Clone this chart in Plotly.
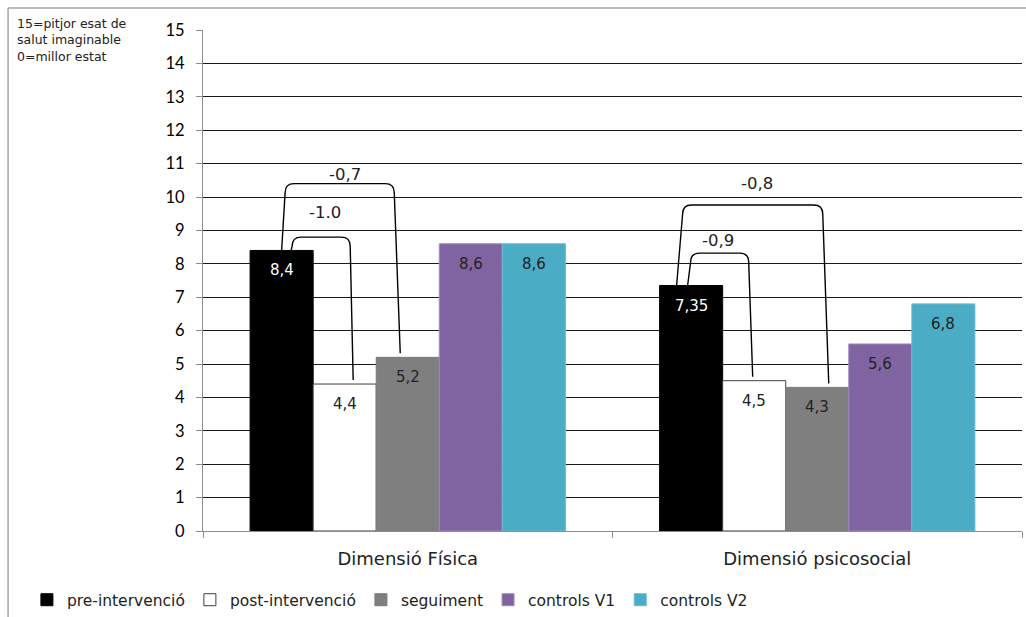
import plotly.graph_objects as go

# Scores per dimension (0 = best state, 15 = worst imaginable health)
dimensions = ["Dimensió Física", "Dimensió psicosocial"]
series_names = ["pre-intervenció", "post-intervenció", "seguiment", "controls V1", "controls V2"]
pre_intervencio = [8.4, 7.35]
post_intervencio = [4.4, 4.5]
seguiment = [5.2, 4.3]
controls_v1 = [8.6, 5.6]
controls_v2 = [8.6, 6.8]
y_ticks = list(range(0, 16))

# Differences shown over brackets: (dimension, from series, to series, label)
diff_labels = [
    (0, 0, 1, "-1.0"),
    (0, 0, 2, "-0,7"),
    (1, 0, 1, "-0,9"),
    (1, 0, 2, "-0,8"),
]

series_values = [pre_intervencio, post_intervencio, seguiment, controls_v1, controls_v2]
fill_colors = ["#000000", "#ffffff", "#7f7f7f", "#8064a2", "#4bacc6"]
edge_colors = ["#000000", "#3f3f3f", "#7a7a7a", "#9c8cbc", "#6cbcd2"]
text_colors = ["#ffffff", "#222222", "#222222", "#222222", "#222222"]

BARGAP = 0.23
n_series = len(series_values)
bar_w = (1 - BARGAP) / n_series
x_pos = list(range(len(dimensions)))


def bar_center(cat, s):
    return cat + (s - (n_series - 1) / 2) * bar_w


def fmt(v):
    return f"{v:g}".replace(".", ",")


fig = go.Figure()
for s, (name, vals, fc, ec, tc) in enumerate(zip(series_names, series_values, fill_colors,
                                                 edge_colors, text_colors)):
    fig.add_trace(go.Bar(
        x=x_pos, y=vals, name=name,
        marker=dict(color=fc, line=dict(color=ec, width=1)),
        hoverinfo="skip",
    ))
    # value label just inside the top of each bar
    for cat, v in enumerate(vals):
        fig.add_annotation(x=bar_center(cat, s), y=v, xref="x", yref="y", text=fmt(v),
                           showarrow=False, yanchor="top", yshift=-9,
                           font=dict(family="DejaVu Sans", size=15, color=tc))

# Bracket geometry (x offsets in px from bar centres, heights in axis units)
PX_PER_X = 409.5
PX_PER_Y = 33.4
bracket_style = {
    # key: (left foot dx, left top dx, right top dx, right foot dx, top y, label y, label dx)
    (0, 1): (9.5, 10.5, 5.5, 8.5, 8.8, 9.55, 4),
    (0, 2): (0.0, 3.5, -13.5, -7.5, 10.4, 10.66, 5.5),
    (1, 1): (-3.5, -0.5, -5.5, -1.5, 8.32, 8.71, -2),
    (1, 2): (-14.5, -8.5, 5.5, 11.5, 9.76, 10.39, 4),
}

rx = 9 / PX_PER_X
ry = 9 / PX_PER_Y
for cat, s0, s1, text in diff_labels:
    lf, lt, rt, rf, ytop, ylab, ldx = bracket_style[(cat, s1)]
    c0 = bar_center(cat, s0)
    c1 = bar_center(cat, s1)
    xl_f = c0 + lf / PX_PER_X
    xl_t = c0 + lt / PX_PER_X
    xr_t = c1 + rt / PX_PER_X
    xr_f = c1 + rf / PX_PER_X
    yl = series_values[s0][cat]
    yr = series_values[s1][cat] + 0.12
    path = (f"M {xl_f},{yl} L {xl_t},{ytop - ry} Q {xl_t},{ytop} {xl_t + rx},{ytop} "
            f"L {xr_t - rx},{ytop} Q {xr_t},{ytop} {xr_t},{ytop - ry} L {xr_f},{yr}")
    fig.add_shape(type="path", path=path, xref="x", yref="y",
                  line=dict(color="#000000", width=1.4), layer="above")
    fig.add_annotation(x=(xl_t + xr_t) / 2 + ldx / PX_PER_X, y=ylab,
                       xref="x", yref="y", text=text, showarrow=False,
                       font=dict(family="DejaVu Sans", size=16.5, color="#222222"))

# Scale note in the upper-left corner
fig.add_annotation(x=-0.229, y=1.032, xref="paper", yref="paper", xanchor="left", yanchor="top",
                   align="left", showarrow=False,
                   text="15=pitjor esat de<br>salut imaginable<br>0=millor estat",
                   font=dict(family="DejaVu Sans", size=12.5, color="#222222"))

# Outer frame (top and left edges)
fig.add_shape(type="line", xref="paper", yref="paper", x0=-0.238, x1=1.01, y0=1.0439, y1=1.0439,
              line=dict(color="#a6a6a6", width=1.5))
fig.add_shape(type="line", xref="paper", yref="paper", x0=-0.238, x1=-0.238, y0=1.0439, y1=-0.2,
              line=dict(color="#a6a6a6", width=1.5))

fig.update_layout(
    width=1026, height=617,
    margin=dict(l=203, r=4, t=30, b=86, autoexpand=False),
    paper_bgcolor="#ffffff", plot_bgcolor="#ffffff",
    barmode="group", bargap=BARGAP, bargroupgap=0,
    showlegend=True,
    legend=dict(orientation="h", x=-0.215, y=-0.138, xanchor="left", yanchor="middle",
                font=dict(family="DejaVu Sans", size=15.5, color="#222222"),
                itemwidth=30, traceorder="normal"),
    xaxis=dict(range=[-0.5, 1.5], tickvals=x_pos, ticktext=dimensions, ticks="",
               showgrid=False, zeroline=False, showline=True, linecolor="#8c8c8c", linewidth=1,
               ticklabelstandoff=11,
               tickfont=dict(family="DejaVu Sans", size=18, color="#222222")),
    xaxis2=dict(range=[-0.5, 1.5], overlaying="x", anchor="y", side="bottom",
                tickvals=[-0.5, 0.5, 1.5], ticks="outside", ticklen=6, tickcolor="#8c8c8c",
                showticklabels=False, showgrid=False, zeroline=False, showline=False),
    yaxis=dict(range=[0, 15], tickvals=y_ticks, ticks="outside", ticklen=6, tickcolor="#8c8c8c",
               showgrid=True, gridcolor="#1a1a1a", gridwidth=1, zeroline=False,
               showline=True, linecolor="#8c8c8c", linewidth=1, ticklabelstandoff=8,
               tickfont=dict(family="Lato", size=16.5, color="#000000")),
)

# Invisible trace so the boundary tick axis is drawn
fig.add_trace(go.Scatter(x=[-0.5], y=[0], xaxis="x2", mode="markers",
                         marker=dict(opacity=0), showlegend=False, hoverinfo="skip"))

fig.write_html("out.html")
